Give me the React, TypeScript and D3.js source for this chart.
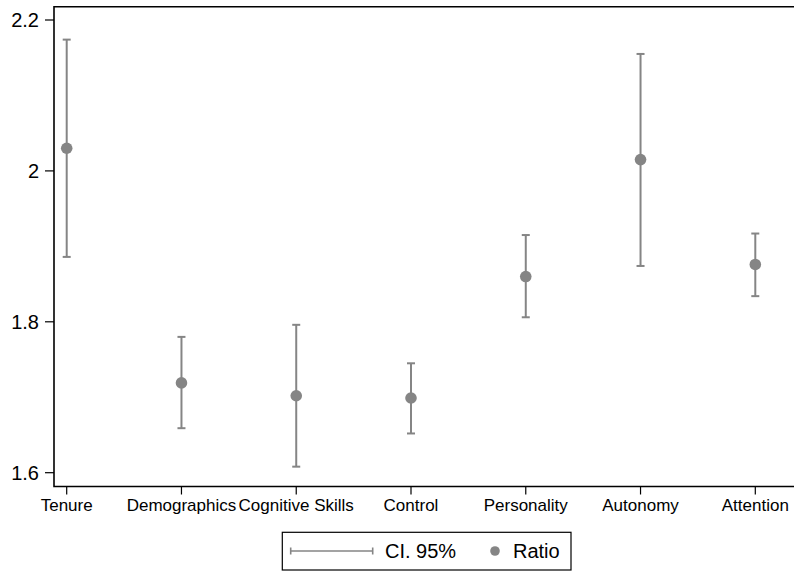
import React from "react";
import * as d3 from "d3";

const categories = ["Tenure", "Demographics", "Cognitive Skills", "Control", "Personality", "Autonomy", "Attention"];
const ratio = [2.030, 1.719, 1.702, 1.699, 1.860, 2.015, 1.876];
const ciLow = [1.886, 1.659, 1.608, 1.652, 1.806, 1.874, 1.834];
const ciHigh = [2.174, 1.780, 1.796, 1.745, 1.915, 2.155, 1.917];
const yTicks = [1.6, 1.8, 2, 2.2];

const W = 794;
const H = 571;
const left = 54;
const top = 6.7;
const bottom = 486.5;
const font = "'Liberation Sans', Arial, Helvetica, sans-serif";
const grey = "#858585";

export default function App() {
  const x = d3.scalePoint<string>().domain(categories).range([66.7, 755.3]);
  const y = d3.scaleLinear().domain([1.6, 2.2]).range([472.7, 20]);

  return (
    <svg width={W} height={H} style={{ position: "absolute", left: 0, top: 0, background: "#fff" }} fontFamily={font}>
      {/* frame: open on the right */}
      <path d={`M${W},${top}H${left}V${bottom}H${W}`} fill="none" stroke="#000" strokeWidth={1.6} />

      {yTicks.map((t) => (
        <g key={t}>
          <line x1={45} x2={left} y1={y(t)} y2={y(t)} stroke="#000" strokeWidth={1.2} />
          <text x={39} y={y(t)} dy="0.36em" textAnchor="end" fontSize={20} fill="#000">
            {d3.format("~g")(t)}
          </text>
        </g>
      ))}

      {categories.map((c) => (
        <g key={c}>
          <line x1={x(c)} x2={x(c)} y1={bottom} y2={bottom + 8} stroke="#000" strokeWidth={1.2} />
          <text x={x(c)} y={bottom + 24} textAnchor="middle" fontSize={17} fill="#000">
            {c}
          </text>
        </g>
      ))}

      {categories.map((c, i) => {
        const cx = x(c) as number;
        return (
          <g key={c} stroke={grey} strokeWidth={2}>
            <line x1={cx} x2={cx} y1={y(ciLow[i])} y2={y(ciHigh[i])} />
            <line x1={cx - 4} x2={cx + 4} y1={y(ciLow[i])} y2={y(ciLow[i])} />
            <line x1={cx - 4} x2={cx + 4} y1={y(ciHigh[i])} y2={y(ciHigh[i])} />
            <circle cx={cx} cy={y(ratio[i])} r={5.8} fill={grey} stroke="none" />
          </g>
        );
      })}

      {/* legend */}
      <rect x={282.3} y={532.3} width={288.7} height={37.7} fill="#fff" stroke="#000" strokeWidth={1.2} />
      <g stroke={grey} strokeWidth={1.6}>
        <line x1={290.7} x2={372.7} y1={551} y2={551} />
        <line x1={290.7} x2={290.7} y1={547.5} y2={554.5} />
        <line x1={372.7} x2={372.7} y1={547.5} y2={554.5} />
      </g>
      <text x={385} y={551} dy="0.36em" fontSize={20} fill="#000">CI. 95%</text>
      <circle cx={495} cy={551} r={4.8} fill={grey} />
      <text x={513} y={551} dy="0.36em" fontSize={20} fill="#000">Ratio</text>
    </svg>
  );
}
